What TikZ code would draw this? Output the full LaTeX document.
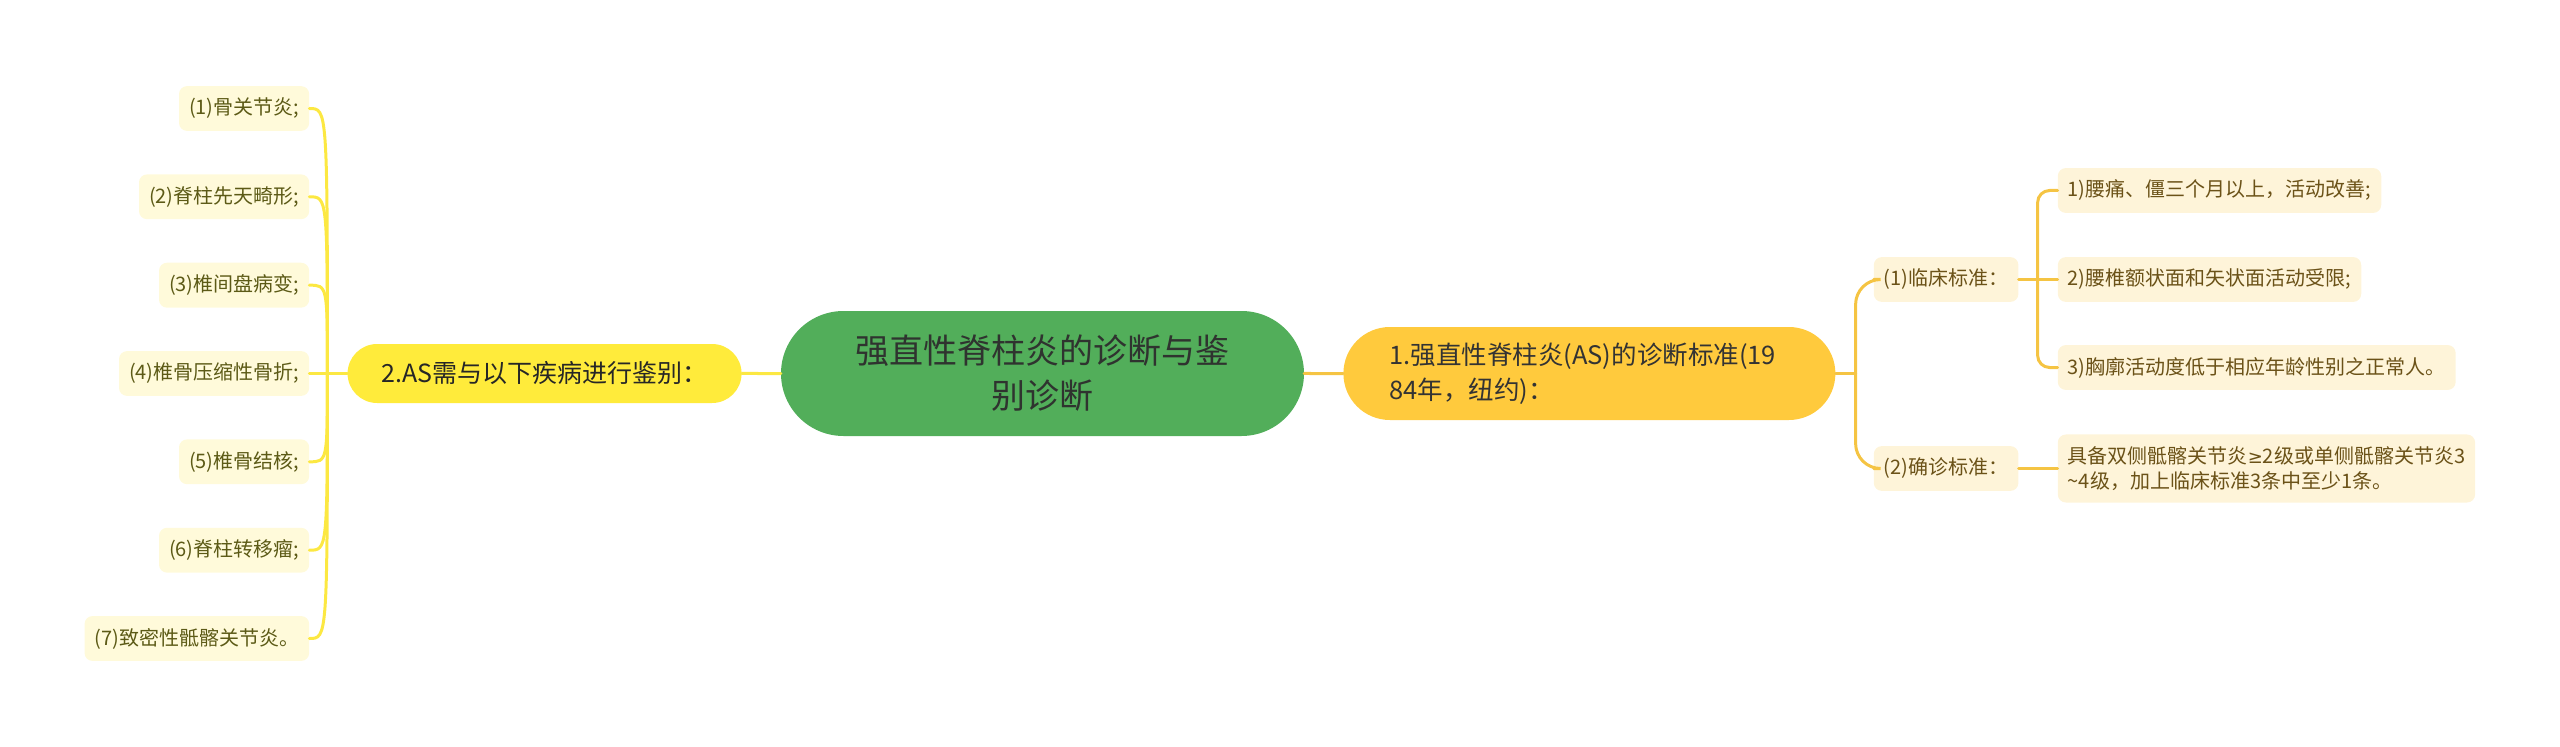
\documentclass[tikz,border=0pt]{standalone}
\usepackage{fontspec}
\setmainfont{Noto Sans CJK SC}
\newfontfamily\symsans{DejaVu Sans}
\usepackage{tikz}
\usetikzlibrary{positioning, shapes.misc}
\definecolor{rootfill}{HTML}{52AE5A}
\definecolor{roottext}{HTML}{2F332F}
\definecolor{difffill}{HTML}{FFEB3B}
\definecolor{critfill}{HTML}{FFCA3D}
\definecolor{leafdifffill}{HTML}{FFFADA}
\definecolor{leafdifftext}{HTML}{5C5A16}
\definecolor{leafcritfill}{HTML}{FEF4D9}
\definecolor{leafcrittext}{HTML}{6B5218}
\definecolor{difflinecol}{HTML}{FCE842}
\definecolor{critlinecol}{HTML}{F5C443}

\begin{document}
\begin{tikzpicture}[
	x=1pt, y=1pt,
	node distance=38pt and 38pt,
	rootnode/.style={rounded rectangle, fill=rootfill, text=roottext,
		minimum width=523pt, minimum height=125pt, text width=390pt,
		align=center, inner sep=0pt, font=\fontsize{34pt}{45pt}\selectfont},
	diffnode/.style={rounded rectangle, fill=difffill, text=black!85,
		minimum width=394pt, minimum height=59pt, inner sep=0pt,
		font=\fontsize{25pt}{30pt}\selectfont},
	critnode/.style={rounded rectangle, fill=critfill, text=black!80,
		minimum width=492pt, minimum height=93pt, text width=400pt,
		align=left, inner sep=0pt, font=\fontsize{25.5pt}{35pt}\selectfont},
	leafdiff/.style={rectangle, rounded corners=8pt, fill=leafdifffill,
		text=leafdifftext, minimum height=44pt, inner xsep=10pt, inner ysep=12pt,
		font=\fontsize{20pt}{25pt}\selectfont},
	leafcrit/.style={leafdiff, fill=leafcritfill, text=leafcrittext, align=left},
	diffline/.style={draw=difflinecol, line width=3pt, line cap=round},
	critline/.style={draw=critlinecol, line width=3pt, line cap=round}
	]
	\useasboundingbox (-1042.5,-373.5) rectangle (1517.5,373.5);
	
	% Centre and main branches
	\node[rootnode] (root) at (0,0) {强直性脊柱炎的诊断与鉴\\别诊断};
	\node[diffnode, left=39pt of root] (diff) {2.AS需与以下疾病进行鉴别：};
	\node[critnode, right=39pt of root] (crit) {1.强直性脊柱炎(AS)的诊断标准(19\\84年，纽约)：};
	
	% Left: diseases to tell apart
	\node[leafdiff, left=38pt of diff, yshift=265pt] (d1) {(1)骨关节炎;};
	\node[leafdiff, left=38pt of diff, yshift=176.7pt] (d2) {(2)脊柱先天畸形;};
	\node[leafdiff, left=38pt of diff, yshift=88.3pt] (d3) {(3)椎间盘病变;};
	\node[leafdiff, left=38pt of diff] (d4) {(4)椎骨压缩性骨折;};
	\node[leafdiff, left=38pt of diff, yshift=-88.3pt] (d5) {(5)椎骨结核;};
	\node[leafdiff, left=38pt of diff, yshift=-176.7pt] (d6) {(6)脊柱转移瘤;};
	\node[leafdiff, left=38pt of diff, yshift=-265pt] (d7) {(7)致密性骶髂关节炎。};
	
	% Right: criteria
	\node[leafcrit, right=38pt of crit, yshift=94pt] (c1) {(1)临床标准：};
	\node[leafcrit, right=38pt of crit, yshift=-95pt] (c2) {(2)确诊标准：};
	\node[leafcrit, right=39pt of c1, yshift=89pt] (c11) {1)腰痛、僵三个月以上，活动改善;};
	\node[leafcrit, right=39pt of c1] (c12) {2)腰椎额状面和矢状面活动受限;};
	\node[leafcrit, right=39pt of c1, yshift=-88pt] (c13) {3)胸廓活动度低于相应年龄性别之正常人。};
	\node[leafcrit, right=39pt of c2] (c21) {具备双侧骶髂关节炎{\symsans\fontsize{18pt}{25pt}\selectfont ≥}2级或单侧骶髂关节炎3\\\textasciitilde4级，加上临床标准3条中至少1条。};
	
	% Connectors on the left
	\coordinate[left=20pt of diff.west] (jl);
	\draw[diffline] (root) -- (diff);
	\draw[diffline] (diff.west) -- (d4.east);
	\draw[diffline] (jl) .. controls (jl |- d1) and (jl |- d1) .. (d1.east);
	\draw[diffline] (jl) .. controls (jl |- d2) and (jl |- d2) .. (d2.east);
	\draw[diffline] (jl) .. controls (jl |- d3) and (jl |- d3) .. (d3.east);
	\draw[diffline] (jl) .. controls (jl |- d5) and (jl |- d5) .. (d5.east);
	\draw[diffline] (jl) .. controls (jl |- d6) and (jl |- d6) .. (d6.east);
	\draw[diffline] (jl) .. controls (jl |- d7) and (jl |- d7) .. (d7.east);
	
	% Connectors on the right
	\coordinate[right=20pt of crit.east] (jr);
	\coordinate[right=19pt of c1.east] (jc);
	\draw[critline] (root) -- (crit);
	\draw[critline] (crit.east) -- (jr);
	\draw[critline, rounded corners=25pt] (jr) |- (c1.west);
	\draw[critline, rounded corners=25pt] (jr) |- (c2.west);
	\draw[critline] (c1.east) -- (c12.west);
	\draw[critline, rounded corners=12pt] (jc) |- (c11.west);
	\draw[critline, rounded corners=12pt] (jc) |- (c13.west);
	\draw[critline] (c2.east) -- (c21.west);
	
\end{tikzpicture}
\end{document}
